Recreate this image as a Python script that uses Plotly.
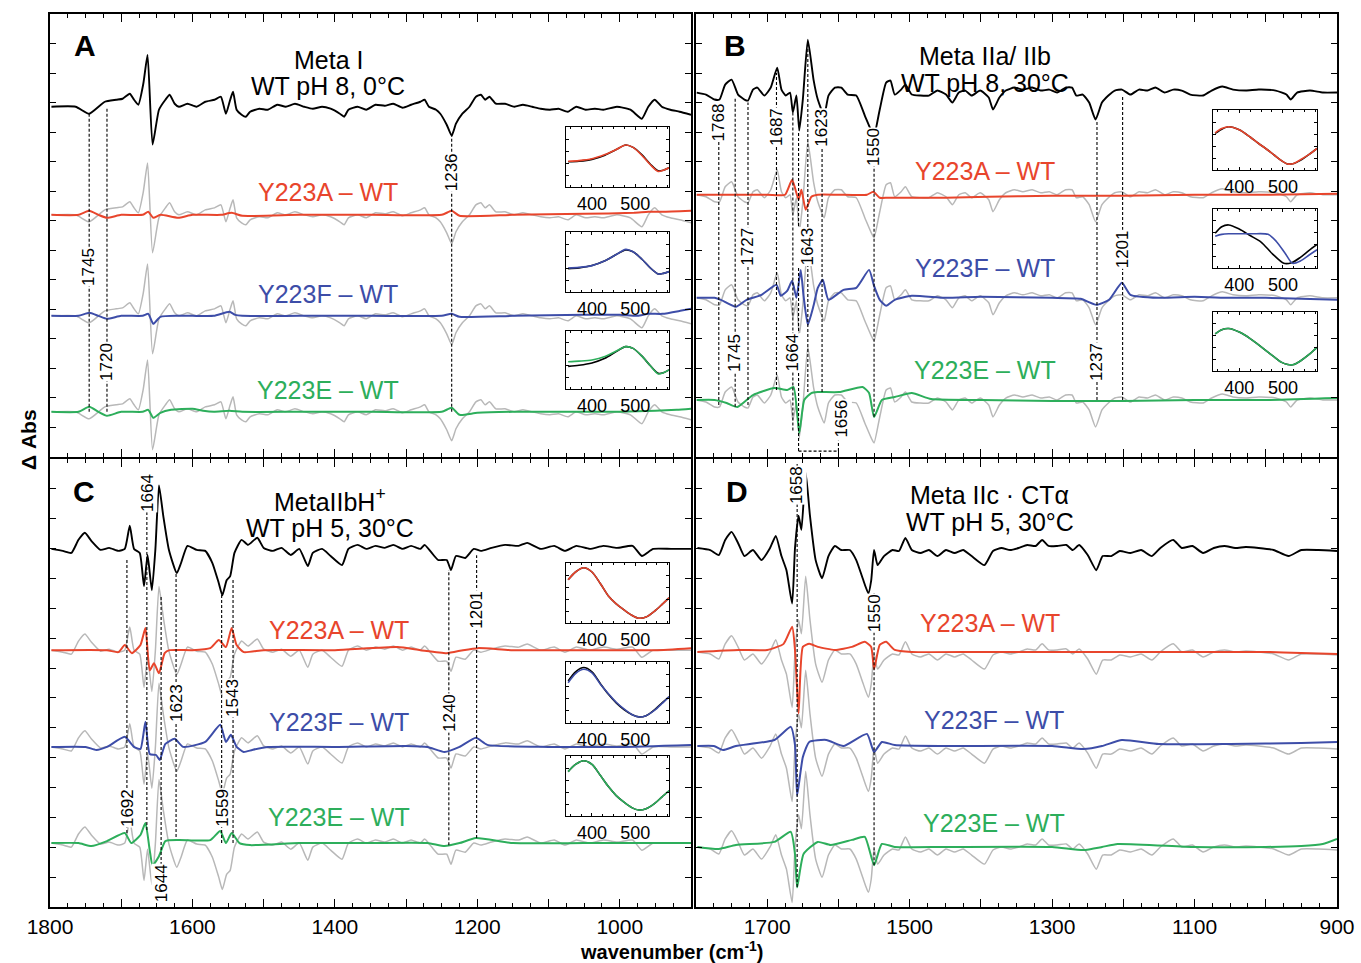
import plotly.graph_objects as go

# ---------------- DATA (arbitrary dAbs units) ----------------
# Panel A (Meta I)
A_WN = [1798,1764,1745,1723,1707,1698,1688,1682,1676,1669,1663,1656,1647,1638,1632,1625,1619,1607,1594,1582,
        1569,1560,1553,1547,1543,1538,1531,1525,1519,1506,1494,1481,1469,1456,1443,1431,1418,1406,1393,1387,
        1381,1368,1356,1343,1330,1318,1305,1293,1280,1274,1268,1258,1252,1243,1236,1230,1221,1211,1202,1195,
        1189,1183,1174,1161,1148,1136,1123,1111,1098,1086,1073,1061,1048,1035,1023,1004,985,969,960,951,
        941,929,916,900]
A_WT = [0,0,-7,5,7,8,13,7,2,23,52,-38,-3,7,12,3,0,3,0,5,
        7,10,-7,7,15,-3,-8,-10,-5,-2,-3,2,0,3,0,-2,0,-2,-7,-10,
        -3,0,-3,2,1,3,-1,2,5,7,0,-3,-7,-18,-29,-17,-7,0,10,12,
        7,10,3,3,0,2,0,-2,-3,-2,-5,0,-3,-2,-3,0,-3,-12,0,7,
        0,-3,-5,-8]
A_Y223A_WN = [1798,1760,1745,1732,1720,1700,1670,1662,1655,1645,1620,1600,1560,1545,1530,1450,1350,1250,1236,1225,1150,1050,980,960,940,900]
A_Y223A = [0,0,4,0,-3,0,0,3,-3,0,-3,0,0,2,-1,0,0,0,4,-1,0,1,2,3,3,4]
A_Y223F_WN = [1798,1760,1745,1732,1720,1700,1670,1662,1655,1645,1620,1600,1570,1548,1540,1530,1450,1350,1250,1236,1225,1150,1050,1000,975,960,940,915,900]
A_Y223F = [0,0,3,0,-3,0,0,2,-8,-1,0,0,0,4,1,0,0,0,0,2,-1,0,1,1,0,2,2,5,7]
A_Y223E_WN = [1798,1760,1745,1732,1720,1700,1670,1662,1655,1645,1630,1600,1585,1570,1548,1530,1450,1350,1250,1236,1225,1200,1150,1050,1000,950,920,900]
A_Y223E = [0,0,5,0,-4,0,0,2,-6,-1,2,3,1,0,1,0,0,0,0,4,-3,-1,0,0,0,1,2,3]

# Panel B (Meta IIa/IIb)
B_WN = [1799,1786,1774,1767,1759,1750,1741,1732,1727,1720,1714,1704,1695,1686,1680,1674,1668,1664,1659,1655,
        1650,1643,1635,1629,1620,1614,1605,1596,1587,1575,1563,1554,1550,1542,1533,1527,1521,1512,1506,1497,
        1485,1473,1461,1449,1440,1431,1422,1413,1401,1389,1383,1374,1365,1353,1341,1328,1316,1304,1293,1281,
        1272,1266,1257,1248,1239,1230,1221,1212,1202,1190,1178,1166,1155,1142,1130,1118,1106,1088,1076,1061,
        1046,1028,1010,986,971,965,956,938,920,900]
B_WT = [0,-2,-7,-7,8,13,-2,-7,-8,3,5,-3,5,25,3,-3,0,-20,-3,-38,
        -7,53,13,-7,-23,-3,5,5,-2,-3,-23,-38,-43,-17,10,12,-2,3,8,-2,
        -3,-3,2,-2,-10,0,2,-3,2,-5,-17,-5,2,5,3,5,2,3,0,5,
        5,-3,-2,-10,-27,-10,-3,2,3,-2,3,2,5,0,3,2,-2,-3,2,6,
        3,2,3,2,-2,-7,0,2,0,0]
B_Y223A_WN = [1799,1700,1675,1665,1656,1652,1646,1638,1629,1600,1560,1551,1542,1530,1450,1389,1300,1200,1100,1000,900]
B_Y223A = [0,0,0,15,-5,5,-15,-2,0,0,0,3,-3,-3,-3,-2,-1,-1,0,0,1]
B_Y223F_WN = [1799,1774,1765,1744,1729,1708,1687,1681,1672,1665,1659,1653,1649,1643,1635,1629,1622,1614,1593,1575,
              1557,1550,1542,1533,1521,1497,1450,1400,1300,1260,1238,1220,1202,1190,1150,1100,1050,1000,950,900]
B_Y223F = [0,0,-2,-9,-2,3,13,2,7,17,0,28,2,-27,-8,10,18,-2,8,10,
           28,12,-2,-8,-2,2,0,1,0,-1,-7,-2,15,3,0,1,0,0,-1,-2]
B_Y223E_WN = [1799,1774,1757,1742,1720,1690,1672,1663,1655,1648,1638,1629,1599,1566,1557,1550,1539,1521,1497,1470,1400,1300,1200,1100,1000,900]
B_Y223E = [0,0,-3,-7,5,12,10,13,-33,0,7,8,8,13,7,-17,0,3,7,1,0,-1,-1,0,0,2]

# Panel C (Meta IIbH+)
C_WN = [1798,1782,1770,1760,1751,1742,1729,1717,1704,1695,1688,1682,1674,1668,1663,1657,1652,1647,1641,1633,
        1622,1616,1607,1594,1582,1572,1563,1558,1552,1547,1541,1531,1522,1509,1500,1487,1475,1462,1450,1438,
        1431,1418,1406,1390,1381,1368,1356,1343,1330,1318,1305,1293,1280,1274,1264,1255,1243,1237,1230,1217,
        1205,1195,1180,1161,1142,1130,1111,1092,1077,1061,1042,1023,1004,982,969,953,928,900]
C_WT = [0,-2,-4,9,16,8,-1,1,-2,0,23,0,-4,-37,-6,-41,0,63,33,-1,
        -24,-14,3,-1,-2,-14,-34,-46,-31,-27,-4,9,4,11,1,-2,1,-6,0,-17,
        -4,0,-7,-16,0,4,0,3,1,4,0,3,0,4,-4,-11,-11,-21,-7,-9,
        0,-2,1,4,3,6,0,3,-2,3,0,3,1,3,-7,0,0,0]
C_Y223A_WN = [1798,1720,1704,1695,1685,1673,1666,1660,1654,1647,1639,1632,1600,1575,1563,1553,1545,1538,1528,1500,1400,1312,1280,1243,1220,1199,1150,1050,950,900]
C_Y223A = [0,0,-2,5,-3,5,22,-20,-13,-23,-3,0,0,2,10,3,22,5,-2,0,0,3,0,-3,0,2,0,0,0,2]
C_Y223F_WN = [1798,1750,1735,1720,1695,1682,1673,1666,1660,1651,1646,1638,1625,1613,1582,1561,1553,1546,1538,1528,1516,1494,1400,1300,1270,1246,1225,1202,1186,1100,1000,900]
C_Y223F = [0,0,-3,0,10,0,-2,25,-7,-8,-13,3,8,0,5,22,5,12,0,-5,-3,0,0,1,0,-5,0,9,2,0,0,2]
C_Y223E_WN = [1798,1760,1742,1720,1695,1686,1673,1666,1660,1656,1647,1638,1619,1575,1561,1553,1545,1534,1519,1450,1350,1270,1246,1225,1202,1150,1050,950,900]
C_Y223E = [0,0,-3,2,10,0,8,20,-7,-22,-13,2,3,3,12,0,10,0,-2,0,0,0,-3,0,5,0,0,0,0]

# Panel D (Meta IIc . CTalpha)
D_WN = [1798,1780,1768,1759,1750,1741,1732,1720,1708,1696,1688,1680,1673,1665,1661,1656,1652,1646,1640,1632,
        1623,1614,1605,1596,1584,1575,1566,1558,1554,1550,1545,1536,1524,1515,1506,1497,1485,1473,1461,1449,
        1437,1425,1413,1395,1383,1371,1359,1347,1335,1323,1314,1305,1293,1280,1271,1262,1250,1238,1229,1217,
        1205,1190,1175,1160,1148,1130,1118,1103,1088,1073,1058,1043,1028,1010,989,968,950,926,900]
D_WT = [0,-2,-7,8,16,5,-8,-2,-12,0,12,-8,-22,-55,0,32,18,75,32,-12,
        -30,-8,2,-2,-2,-12,-30,-45,-32,-2,-17,-8,-2,-3,10,-2,-5,-2,-8,-2,
        -5,-2,-8,-17,-3,0,-2,0,3,2,8,2,2,3,-2,3,-7,-22,-8,-8,
        -3,-5,-2,-8,0,8,0,2,-5,0,2,0,1,0,-2,-8,-2,-2,-3]
D_Y223A_WN = [1798,1740,1700,1677,1665,1661,1656,1650,1641,1629,1605,1581,1563,1554,1550,1542,1533,1521,1497,1400,1300,1200,1100,1000,950,900]
D_Y223A = [0,2,2,8,25,2,-61,5,8,5,2,5,10,5,-17,7,10,2,0,0,0,0,0,0,-1,-2]
D_Y223F_WN = [1798,1775,1762,1744,1690,1667,1661,1658,1650,1641,1617,1593,1560,1550,1539,1521,1450,1300,1256,1230,1202,1150,1050,950,900]
D_Y223F = [0,0,-4,0,6,19,1,-49,-11,4,6,0,12,-6,4,1,0,0,-3,0,6,2,2,3,4]
D_Y223E_WN = [1798,1768,1744,1690,1667,1661,1658,1649,1629,1611,1581,1563,1550,1539,1521,1450,1300,1256,1230,1208,1100,1000,950,920,900]
D_Y223E = [0,-2,2,5,15,-7,-40,-7,5,2,7,10,-18,3,0,0,0,-3,0,3,0,0,1,3,8]

# UV-vis insets (nm, normalised absorbance difference)
INS_A_NM = [345,370,400,430,455,478,495,515,535,553,565,578]
INS_A1_WT = [0.42,0.43,0.46,0.53,0.62,0.70,0.66,0.54,0.38,0.27,0.28,0.32]
INS_A1_MUT = [0.43,0.44,0.47,0.54,0.62,0.70,0.66,0.53,0.37,0.26,0.28,0.32]
INS_A2_WT = [0.39,0.40,0.44,0.52,0.62,0.70,0.67,0.55,0.40,0.30,0.31,0.34]
INS_A2_MUT = [0.40,0.41,0.44,0.52,0.62,0.71,0.67,0.55,0.40,0.30,0.31,0.34]
INS_A3_WT = [0.39,0.41,0.45,0.53,0.64,0.73,0.70,0.57,0.40,0.27,0.28,0.33]
INS_A3_MUT = [0.47,0.48,0.50,0.56,0.65,0.73,0.70,0.57,0.40,0.26,0.28,0.33]

INS_B_NM = [345,360,376,400,425,443,462,480,496,511,525,540,560,578]
INS_B1_WT = [0.61,0.68,0.72,0.67,0.55,0.45,0.35,0.25,0.16,0.10,0.11,0.16,0.26,0.36]
INS_B1_MUT = [0.62,0.69,0.72,0.67,0.55,0.45,0.35,0.25,0.16,0.10,0.11,0.17,0.26,0.36]
INS_B2_WT_NM = [345,360,376,400,425,450,476,502,520,540,560,578]
INS_B2_WT = [0.59,0.70,0.73,0.66,0.55,0.44,0.24,0.08,0.09,0.18,0.30,0.40]
INS_B2_MUT_NM = [345,360,376,400,430,466,485,505,522,540,560,578]
INS_B2_MUT = [0.54,0.57,0.58,0.58,0.58,0.57,0.45,0.25,0.08,0.12,0.22,0.31]
INS_B3_WT = [0.63,0.70,0.72,0.66,0.55,0.45,0.34,0.24,0.15,0.11,0.11,0.17,0.28,0.40]
INS_B3_MUT = [0.63,0.70,0.72,0.66,0.55,0.45,0.34,0.24,0.15,0.11,0.11,0.17,0.28,0.40]

INS_C_NM = [345,362,381,400,420,438,456,474,492,508,525,545,562,578]
INS_C1_WT = [0.72,0.85,0.92,0.85,0.65,0.45,0.32,0.22,0.13,0.08,0.10,0.20,0.31,0.42]
INS_C1_MUT = [0.72,0.85,0.92,0.85,0.65,0.45,0.32,0.22,0.13,0.08,0.10,0.20,0.31,0.42]
INS_C2_WT = [0.69,0.84,0.91,0.84,0.64,0.47,0.33,0.22,0.14,0.10,0.12,0.22,0.33,0.43]
INS_C2_MUT = [0.66,0.81,0.88,0.82,0.63,0.48,0.34,0.23,0.14,0.10,0.12,0.21,0.32,0.43]
INS_C3_WT = [0.74,0.86,0.92,0.86,0.67,0.49,0.34,0.23,0.14,0.10,0.12,0.21,0.32,0.42]
INS_C3_MUT = [0.74,0.86,0.92,0.86,0.67,0.49,0.34,0.23,0.14,0.10,0.12,0.21,0.32,0.42]

LEFT_TICK_LABELS = {1800: "1800", 1600: "1600", 1400: "1400", 1200: "1200", 1000: "1000"}
RIGHT_TICK_LABELS = {1700: "1700", 1500: "1500", 1300: "1300", 1100: "1100", 900: "900"}
MUTANTS = ["Y223A – WT", "Y223F – WT", "Y223E – WT"]

# ---------------- styling / layout ----------------
W, H = 1361, 963
FONT = "Liberation Sans, Arial, Helvetica, sans-serif"
RED, BLUE, GREEN, GRAY = "#E8452C", "#3D4DA8", "#2DAE5B", "#B8B8B8"
COLS = [RED, BLUE, GREEN]
K = 1 / 29.6  # data units -> tick units

def fx(px):
    return px / W

def fy(py):
    return 1 - py / H

fig = go.Figure()
shapes, annos = [], []
layout = dict(template="none", width=W, height=H, margin=dict(l=0, r=0, t=0, b=0, pad=0), autosize=False,
              paper_bgcolor="white", plot_bgcolor="white", showlegend=False,
              font=dict(family=FONT, color="black"))

PANEL_PX = {1: (50, 691, 14, 457), 2: (696, 1337, 14, 457),
            3: (50, 691, 459, 907), 4: (696, 1337, 459, 907)}

major = list(range(1800, 899, -100))
minor_vals = [v for v in range(900, 1801, 25) if v % 100 != 0]

for n, (x0, x1, y0, y1) in PANEL_PX.items():
    sfx = "" if n == 1 else str(n)
    labels = None
    if n == 3:
        labels = LEFT_TICK_LABELS
    elif n == 4:
        labels = RIGHT_TICK_LABELS
    layout["xaxis" + sfx] = dict(
        domain=[fx(x0), fx(x1)], anchor="y" + sfx, range=[1800, 900], automargin=False,
        showline=True, mirror="ticks", linecolor="black", linewidth=1.6,
        ticks="inside", ticklen=8, tickwidth=1, tickcolor="black",
        tickmode="array", tickvals=major,
        ticktext=[(labels or {}).get(v, "") for v in major],
        showticklabels=labels is not None, ticklabeloverflow="allow",
        tickfont=dict(size=21, family=FONT, color="black"),
        minor=dict(tickmode="array", tickvals=minor_vals, ticks="inside", ticklen=4,
                   tickwidth=1, tickcolor="black"),
        showgrid=False, zeroline=False)
    layout["yaxis" + sfx] = dict(
        domain=[fy(y1), fy(y0)], anchor="x" + sfx, range=[0, 15], automargin=False,
        showline=True, mirror="ticks", linecolor="black", linewidth=1.6,
        ticks="inside", ticklen=6, tickwidth=1, tickcolor="black",
        tickmode="array", tickvals=list(range(1, 15)), showticklabels=False,
        showgrid=False, zeroline=False)

PANELS = [
    dict(n=1, wt=(A_WN, A_WT), muts=[(A_Y223A_WN, A_Y223A), (A_Y223F_WN, A_Y223F), (A_Y223E_WN, A_Y223E)],
         offs=[11.86, 8.2, 4.78, 1.53]),
    dict(n=2, wt=(B_WN, B_WT), muts=[(B_Y223A_WN, B_Y223A), (B_Y223F_WN, B_Y223F), (B_Y223E_WN, B_Y223E)],
         offs=[12.34, 8.88, 5.39, 1.93]),
    dict(n=3, wt=(C_WN, C_WT), muts=[(C_Y223A_WN, C_Y223A), (C_Y223F_WN, C_Y223F), (C_Y223E_WN, C_Y223E)],
         offs=[11.99, 8.6, 5.36, 2.14]),
    dict(n=4, wt=(D_WN, D_WT), muts=[(D_Y223A_WN, D_Y223A), (D_Y223F_WN, D_Y223F), (D_Y223E_WN, D_Y223E)],
         offs=[12.02, 8.54, 5.39, 2.01]),
]

def line_trace(xs, ys, off, color, width, xa, ya):
    assert len(xs) == len(ys), (len(xs), len(ys))
    return go.Scatter(x=xs, y=[off + v * K for v in ys], mode="lines",
                      line=dict(color=color, width=width, shape="spline", smoothing=0.5),
                      xaxis=xa, yaxis=ya, hoverinfo="skip", showlegend=False)

for p in PANELS:
    n = p["n"]
    xa, ya = "x" + ("" if n == 1 else str(n)), "y" + ("" if n == 1 else str(n))
    wn, wt = p["wt"]
    for off in p["offs"][1:]:
        fig.add_trace(line_trace(wn, wt, off, GRAY, 1.5, xa, ya))
    for (mwn, mv), off, c in zip(p["muts"], p["offs"][1:], COLS):
        fig.add_trace(line_trace(mwn, mv, off, c, 2.0, xa, ya))
    fig.add_trace(line_trace(wn, wt, p["offs"][0], "black", 1.9, xa, ya))

# dotted marker lines: (panel, wavenumber, y_top, y_bottom)
MARK_LINES = [
    (1, 1745, 11.66, 1.53), (1, 1720, 11.86, 1.53), (1, 1236, 10.88, 1.53),
    (2, 1768, 11.86, 1.76), (2, 1745, 12.2, 1.7), (2, 1727, 12.0, 1.76), (2, 1687, 13.0, 2.27),
    (2, 1664, 11.66, 0.9), (2, 1656, 11.05, 0.2), (2, 1643, 13.9, 2.2), (2, 1623, 11.5, 2.2),
    (2, 1550, 10.85, 1.36), (2, 1237, 11.36, 1.93), (2, 1201, 12.2, 1.93),
    (3, 1692, 11.62, 2.48), (3, 1664, 14.3, 2.58), (3, 1644, 10.4, 0.4), (3, 1623, 11.2, 2.34),
    (3, 1559, 10.45, 2.14), (3, 1543, 10.95, 2.14), (3, 1240, 11.28, 2.07), (3, 1201, 11.78, 2.31),
    (4, 1658, 14.86, 0.67), (4, 1550, 10.5, 1.4),
]
# rotated labels: (panel, text, wavenumber, y)
MARK_LABELS = [
    (1, "1236", 1236, 9.63), (1, "1745", 1745, 6.44), (1, "1720", 1720, 3.22),
    (2, "1768", 1768, 11.32), (2, "1687", 1687, 11.19), (2, "1623", 1623, 11.15), (2, "1550", 1550, 10.5),
    (2, "1727", 1727, 7.12), (2, "1643", 1643, 7.12), (2, "1745", 1745, 3.53), (2, "1664", 1664, 3.53),
    (2, "1237", 1237, 3.22), (2, "1201", 1201, 7.02), (2, "1656", 1595, 1.3),
    (3, "1664", 1664, 13.86), (3, "1201", 1201, 9.94), (3, "1623", 1623, 6.83), (3, "1543", 1543, 7.0),
    (3, "1240", 1240, 6.49), (3, "1692", 1692, 3.31), (3, "1559", 1559, 3.31), (3, "1644", 1644, 0.8),
    (4, "1658", 1658, 14.13), (4, "1550", 1550, 9.84),
]

def ax_names(n):
    s = "" if n == 1 else str(n)
    return "x" + s, "y" + s

dot = dict(color="black", width=1.1, dash="3px,2px")
for n, w, yt, yb in MARK_LINES:
    xa, ya = ax_names(n)
    shapes.append(dict(type="line", xref=xa, yref=ya, x0=w, x1=w, y0=yb, y1=yt, line=dot, layer="above"))
# bracket under 1656 in panel B
shapes.append(dict(type="line", xref="x2", yref="y2", x0=1656, x1=1600, y0=0.2, y1=0.2, line=dot))
shapes.append(dict(type="line", xref="x2", yref="y2", x0=1600, x1=1600, y0=0.2, y1=0.55, line=dot))

for n, t, w, y in MARK_LABELS:
    xa, ya = ax_names(n)
    annos.append(dict(text=t, x=w, y=y, xref=xa, yref=ya, showarrow=False, textangle=-90,
                      xanchor="center", yanchor="middle",
                      bgcolor="white", borderpad=0, font=dict(size=17, family=FONT, color="black")))

def paper_text(t, x, y, size, color="black", angle=0):
    annos.append(dict(text=t, x=fx(x), y=fy(y), xref="paper", yref="paper", showarrow=False,
                      xanchor="center", yanchor="middle", textangle=angle,
                      font=dict(size=size, family=FONT, color=color)))

# panel letters, titles, mutant labels (reference px)
for t, x, y in [("A", 85, 45), ("B", 735, 45), ("C", 84, 492), ("D", 737, 492)]:
    paper_text("<b>%s</b>" % t, x, y, 30)
TITLES = [("Meta I", 328, 60), ("WT pH 8, 0°C", 328, 86),
          ("Meta IIa/ IIb", 985, 56), ("WT pH 8, 30°C", 985, 83),
          ("MetaIIbH<sup>+</sup>", 330, 500), ("WT pH 5, 30°C", 330, 528),
          ("Meta IIc · CTα", 990, 495), ("WT pH 5, 30°C", 990, 522)]
for t, x, y in TITLES:
    paper_text(t, x, y, 25)
MUT_POS = [[(328, 192), (328, 294), (328, 390)], [(985, 171), (985, 268), (985, 370)],
           [(339, 630), (339, 722), (339, 817)], [(990, 623), (994, 720), (994, 823)]]
for pos in MUT_POS:
    for t, (x, y), c in zip(MUTANTS, pos, COLS):
        paper_text(t, x, y, 25, c)

paper_text("<b>Δ Abs</b>", 28, 440, 21, angle=-90)
paper_text("<b>wavenumber (cm<sup>-1</sup>)</b>", 672, 950, 20)

# ---------------- insets ----------------
INSETS = [
    ((566, 669, 127, 187), (INS_A_NM, INS_A1_WT), (INS_A_NM, INS_A1_MUT), RED),
    ((566, 669, 232, 292), (INS_A_NM, INS_A2_WT), (INS_A_NM, INS_A2_MUT), BLUE),
    ((566, 669, 331, 389), (INS_A_NM, INS_A3_WT), (INS_A_NM, INS_A3_MUT), GREEN),
    ((1213, 1317, 110, 170), (INS_B_NM, INS_B1_WT), (INS_B_NM, INS_B1_MUT), RED),
    ((1213, 1317, 209, 268), (INS_B2_WT_NM, INS_B2_WT), (INS_B2_MUT_NM, INS_B2_MUT), BLUE),
    ((1213, 1317, 312, 371), (INS_B_NM, INS_B3_WT), (INS_B_NM, INS_B3_MUT), GREEN),
    ((566, 669, 563, 623), (INS_C_NM, INS_C1_WT), (INS_C_NM, INS_C1_MUT), RED),
    ((566, 669, 662, 723), (INS_C_NM, INS_C2_WT), (INS_C_NM, INS_C2_MUT), BLUE),
    ((566, 669, 756, 816), (INS_C_NM, INS_C3_WT), (INS_C_NM, INS_C3_MUT), GREEN),
]
for i, ((x0, x1, y0, y1), (wnm, wv), (mnm, mv), c) in enumerate(INSETS):
    k = 5 + i
    layout["xaxis%d" % k] = dict(
        domain=[fx(x0), fx(x1)], anchor="y%d" % k, range=[340, 578], automargin=False,
        showline=True, mirror="ticks", linecolor="black", linewidth=1.4,
        ticks="inside", ticklen=3, tickcolor="black", tickmode="array", tickvals=[400, 500],
        ticktext=["400", "500"], tickfont=dict(size=18, family=FONT, color="black"),
        minor=dict(tickmode="array", tickvals=[350, 375, 425, 450, 475, 525, 550, 575],
                   ticks="inside", ticklen=2, tickcolor="black"),
        showgrid=False, zeroline=False)
    layout["yaxis%d" % k] = dict(
        domain=[fy(y1), fy(y0)], anchor="x%d" % k, range=[0, 1], automargin=False,
        showline=True, mirror="ticks", linecolor="black", linewidth=1.4,
        ticks="inside", ticklen=3, tickcolor="black", tickmode="array",
        tickvals=[0.2, 0.4, 0.6, 0.8], showticklabels=False, showgrid=False, zeroline=False)
    for xs, ys, col in [(wnm, wv, "black"), (mnm, mv, c)]:
        assert len(xs) == len(ys)
        fig.add_trace(go.Scatter(x=xs, y=ys, mode="lines",
                                 line=dict(color=col, width=1.6, shape="spline", smoothing=0.8),
                                 xaxis="x%d" % k, yaxis="y%d" % k, hoverinfo="skip", showlegend=False))

layout["shapes"] = shapes
layout["annotations"] = annos
fig.update_layout(**layout)
# remove the default 8px page margin so the 1361x963 figure fills the window exactly
fig.write_html("out.html", config={"displayModeBar": False},
               post_script="document.body.style.margin='0';document.body.style.overflow='hidden';")
